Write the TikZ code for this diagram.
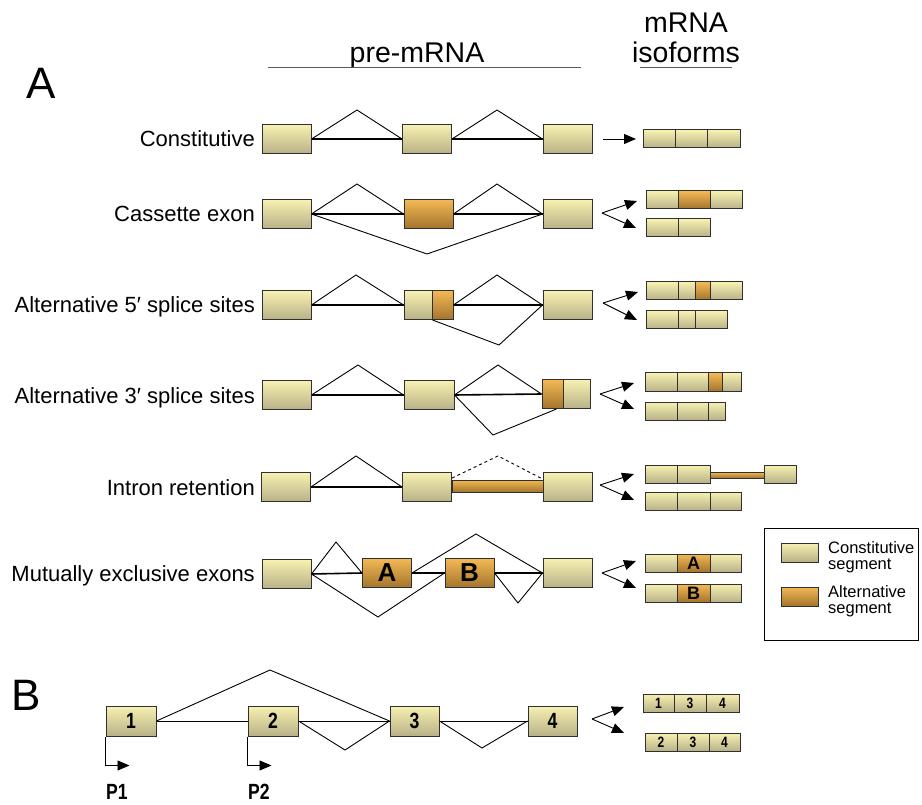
\documentclass[tikz,border=0pt]{standalone}
\usepackage{fontspec}
\setmainfont{Liberation Sans}
\newfontfamily\narrowfont{Liberation Sans}[FakeStretch=0.8]
\usetikzlibrary{arrows.meta}

\definecolor{consTop}{HTML}{F7F1B2}
\definecolor{consBot}{HTML}{B8B187}
\definecolor{altTop}{HTML}{F4B955}
\definecolor{altBot}{HTML}{A3742D}
\definecolor{edgeGray}{HTML}{303030}

\tikzset{
    cons/.style={draw=edgeGray, line width=1pt, top color=consTop, bottom color=consBot, inner sep=0pt},
    alt/.style={draw=edgeGray, line width=1pt, top color=altTop, bottom color=altBot, inner sep=0pt},
    exon/.style={minimum width=49pt, minimum height=29pt},
    intron/.style={line width=1.6pt},
    splice/.style={line width=0.9pt},
    fork/.style={line width=0.9pt, -{Triangle[length=12pt,width=10pt]}},
    rowlabel/.style={anchor=base east, inner sep=0pt, font=\fontsize{22}{26}\selectfont},
    panel/.style={inner sep=0pt, font=\fontsize{44}{48}\selectfont},
    head/.style={anchor=base, inner sep=0pt, font=\fontsize{28.5}{32}\selectfont},
    legtext/.style={anchor=north west, inner sep=0pt, align=left, font=\fontsize{16.5}{16.5}\selectfont},
    num/.style={inner sep=0pt, font=\narrowfont\bfseries\fontsize{22}{24}\selectfont},
    smallnum/.style={inner sep=0pt, font=\narrowfont\bfseries\fontsize{15}{16}\selectfont},
}

\begin{document}
\begin{tikzpicture}[x=1pt,y=-1pt]

    \useasboundingbox (0,0) rectangle (922,805);

    % Headers
    \node[panel] (panelA) at (41,83) {A};
    \node[head] (pre) at (417,63) {pre-mRNA};
    \draw[gray!70!black, line width=1pt] (268,68) -- (581,68);
    \node[head] (mrna) at (686,33) {mRNA};
    \node[head] (iso) at (686,63) {isoforms};
    \draw[gray!70!black, line width=1pt] (640,68) -- (732,68);

    %% Constitutive
    \node[rowlabel] (l1) at (255,147) {Constitutive};
    \node[cons, exon] (c1a) at (286.5,139) {};
    \node[cons, exon] (c1b) at (427,139) {};
    \node[cons, exon] (c1c) at (567.5,139) {};
    \draw[intron] (c1a.east) -- (c1b.west);
    \draw[intron] (c1b.east) -- (c1c.west);
    \draw[splice] (c1a.east) -- (357,110) -- (c1b.west);
    \draw[splice] (c1b.east) -- (497,110) -- (c1c.west);
    \coordinate (f1) at (603,139);
    \draw[fork] (f1) -- ++(33,0);
    \foreach \xa/\xb in {643/675,675/707,707/740}
        \draw[cons] (\xa,130) rectangle (\xb,148);

    %% Cassette exon
    \node[rowlabel] (l2) at (255,222) {Cassette exon};
    \node[cons, exon] (c2a) at (286.5,214) {};
    \node[alt, exon] (c2b) at (428.5,214) {};
    \node[cons, exon] (c2c) at (567.5,214) {};
    \draw[intron] (c2a.east) -- (c2b.west);
    \draw[intron] (c2b.east) -- (c2c.west);
    \draw[splice] (c2a.east) -- (357,184) -- (c2b.west);
    \draw[splice] (c2b.east) -- (497,184) -- (c2c.west);
    \draw[splice] (c2a.east) -- (427,254) -- (c2c.west);
    \coordinate (f2) at (602,213);
    \draw[fork] (f2) -- ++(35,-12);
    \draw[fork] (f2) -- ++(34,15);
    \draw[cons] (646,191) rectangle (678,209);
    \draw[alt] (678,191) rectangle (710,209);
    \draw[cons] (710,191) rectangle (742,209);
    \foreach \xa/\xb in {646/678,678/710}
        \draw[cons] (\xa,219) rectangle (\xb,237);

    %% Alternative 5' splice sites
    \node[rowlabel] (l3) at (255,313) {Alternative 5′ splice sites};
    \node[cons, exon] (c3a) at (286.5,305) {};
    \node[cons, exon, minimum width=28pt] (c3b) at (418,305) {};
    \node[alt, exon, minimum width=21pt] (c3x) at (442.5,305) {};
    \node[cons, exon] (c3c) at (567.5,305) {};
    \draw[intron] (c3a.east) -- (c3b.west);
    \draw[intron] (c3x.east) -- (c3c.west);
    \draw[splice] (c3a.east) -- (356,275) -- (c3b.west);
    \draw[splice] (c3x.east) -- (497,275) -- (c3c.west);
    \draw[splice] (c3b.south east) -- (499,345) -- (c3c.west);
    \coordinate (f3) at (603,303);
    \draw[fork] (f3) -- ++(35,-11);
    \draw[fork] (f3) -- ++(34,17);
    \foreach \xa/\xb in {646/678,678/695,710/742}
        \draw[cons] (\xa,282) rectangle (\xb,300);
    \draw[alt] (695,282) rectangle (710,300);
    \foreach \xa/\xb in {646/678,678/695,695/727}
        \draw[cons] (\xa,311) rectangle (\xb,329);

    %% Alternative 3' splice sites
    \node[rowlabel] (l4) at (255,403) {Alternative 3′ splice sites};
    \node[cons, exon] (c4a) at (286.5,395) {};
    \node[cons, exon, minimum width=50pt] (c4b) at (429,395) {};
    \node[alt, exon, minimum width=21pt] (c4x) at (552.5,394) {};
    \node[cons, exon, minimum width=27pt] (c4c) at (576.5,394) {};
    \draw[intron] (c4a.east) -- (c4b.west);
    \draw[intron] (c4b.east) -- (c4x.west);
    \draw[splice] (c4a.east) -- (358,365) -- (c4b.west);
    \draw[splice] (c4b.east) -- (498,365) -- (c4x.west);
    \draw[splice] (c4b.east) -- (493,435) -- ([xshift=-6pt]c4c.south west);
    \coordinate (f4) at (600,394);
    \draw[fork] (f4) -- ++(34,-11);
    \draw[fork] (f4) -- ++(34,15);
    \foreach \xa/\xb in {645/677,677/708,722/741}
        \draw[cons] (\xa,373) rectangle (\xb,391);
    \draw[alt] (708,373) rectangle (722,391);
    \foreach \xa/\xb in {645/677,677/708,708/725}
        \draw[cons] (\xa,402) rectangle (\xb,420);

    %% Intron retention
    \node[rowlabel] (l5) at (255,495) {Intron retention};
    \node[cons, exon] (c5a) at (286,487) {};
    \node[cons, exon] (c5b) at (427,487) {};
    \node[cons, exon] (c5c) at (567.5,487) {};
    \node[alt, minimum width=91pt, minimum height=12pt] (c5r) at (497.5,486) {};
    \draw[intron] (c5a.east) -- (c5b.west);
    \draw[splice] (c5a.east) -- (356,456) -- (c5b.west);
    \draw[splice, dashed] ([yshift=9pt]c5b.east) -- (498,456) -- ([yshift=8pt]c5c.west);
    \coordinate (f5) at (600,485);
    \draw[fork] (f5) -- ++(34,-11);
    \draw[fork] (f5) -- ++(34,15);
    \foreach \xa/\xb in {645/677,677/710,764/796}
        \draw[cons] (\xa,465) rectangle (\xb,483);
    \draw[alt] (710,472) rectangle (764,478);
    \foreach \xa/\xb in {645/677,677/710,710/741}
        \draw[cons] (\xa,492) rectangle (\xb,510);

    %% Mutually exclusive exons
    \node[rowlabel] (l6) at (255,581) {Mutually exclusive exons};
    \node[cons, exon] (c6a) at (286.5,574) {};
    \node[alt, exon, font=\bfseries\fontsize{26}{28}\selectfont] (c6A) at (387,573) {A};
    \node[alt, exon, font=\bfseries\fontsize{26}{28}\selectfont] (c6B) at (469.5,573) {B};
    \node[cons, exon] (c6c) at (567.5,573) {};
    \draw[intron] (c6a.east) -- (c6A.west);
    \draw[intron] (c6A.east) -- (c6B.west);
    \draw[intron] (c6B.east) -- (c6c.west);
    \draw[splice] (c6a.east) -- (336,542) -- (c6A.west);
    \draw[splice] (c6A.east) -- (476,534) -- (c6c.west);
    \draw[splice] (c6a.east) -- (378,617) -- (c6B.west);
    \draw[splice] (c6B.east) -- (518,603) -- (c6c.west);
    \coordinate (f6) at (602,573);
    \draw[fork] (f6) -- ++(34,-12);
    \draw[fork] (f6) -- ++(34,15);
    \foreach \ya/\t in {554/A,584/B} {
        \draw[cons] (645,\ya) rectangle (677,\ya+18);
        \draw[alt] (677,\ya) rectangle (710,\ya+18);
        \draw[cons] (710,\ya) rectangle (741,\ya+18);
        \node[font=\bfseries\fontsize{18}{18}\selectfont, inner sep=0pt] at (693.5,\ya+9.5) {\t};
    }

    % Legend
    \draw[line width=0.9pt] (764,528) rectangle (918,640);
    \draw[cons] (781,543) rectangle (818,562);
    \node[legtext] (lg1) at (828,541) {Constitutive\\segment};
    \draw[alt] (781,587) rectangle (818,606);
    \node[legtext] (lg2) at (828,585) {Alternative\\segment};

    %% Panel B
    \node[panel] (panelB) at (26,695) {B};
    \node[cons, num, minimum width=50pt, minimum height=30pt] (b1) at (131,721) {1};
    \node[cons, num, minimum width=50pt, minimum height=30pt] (b2) at (273,721) {2};
    \node[cons, num, minimum width=49pt, minimum height=30pt] (b3) at (414.5,721) {3};
    \node[cons, num, minimum width=49pt, minimum height=30pt] (b4) at (552.5,721) {4};
    \draw[splice] (b1.east) -- (b2.west);
    \draw[splice] (b1.east) -- (270,670) -- (b3.west);
    \draw[splice] (b2.east) -- (b3.west);
    \draw[splice] (b2.east) -- (345,750) -- (b3.west);
    \draw[splice] (b3.east) -- (b4.west);
    \draw[splice] (b3.east) -- (482,748) -- (b4.west);

    % Promoters
    \draw[fork] (b1.south west) -- ++(0,29) -- ++(24,0);
    \draw[fork] (b2.south west) -- ++(0,29) -- ++(24,0);
    \node[num, font=\narrowfont\bfseries\fontsize{22}{24}\selectfont] (p1) at (117,792) {P1};
    \node[num, font=\narrowfont\bfseries\fontsize{22}{24}\selectfont] (p2) at (259,792) {P2};

    \coordinate (fB) at (592,719);
    \draw[fork] (fB) -- ++(32,-12);
    \draw[fork] (fB) -- ++(32,14);
    \foreach \xa/\xb/\t in {643/674/1,674/706/3,706/739/4} {
        \draw[cons] (\xa,694) rectangle (\xb,712);
        \node[smallnum] at ({(\xa+\xb)/2},703.5) {\t};
    }
    \foreach \xa/\xb/\t in {645/677/2,677/709/3,709/740/4} {
        \draw[cons] (\xa,733) rectangle (\xb,751);
        \node[smallnum] at ({(\xa+\xb)/2},742.5) {\t};
    }

\end{tikzpicture}
\end{document}
